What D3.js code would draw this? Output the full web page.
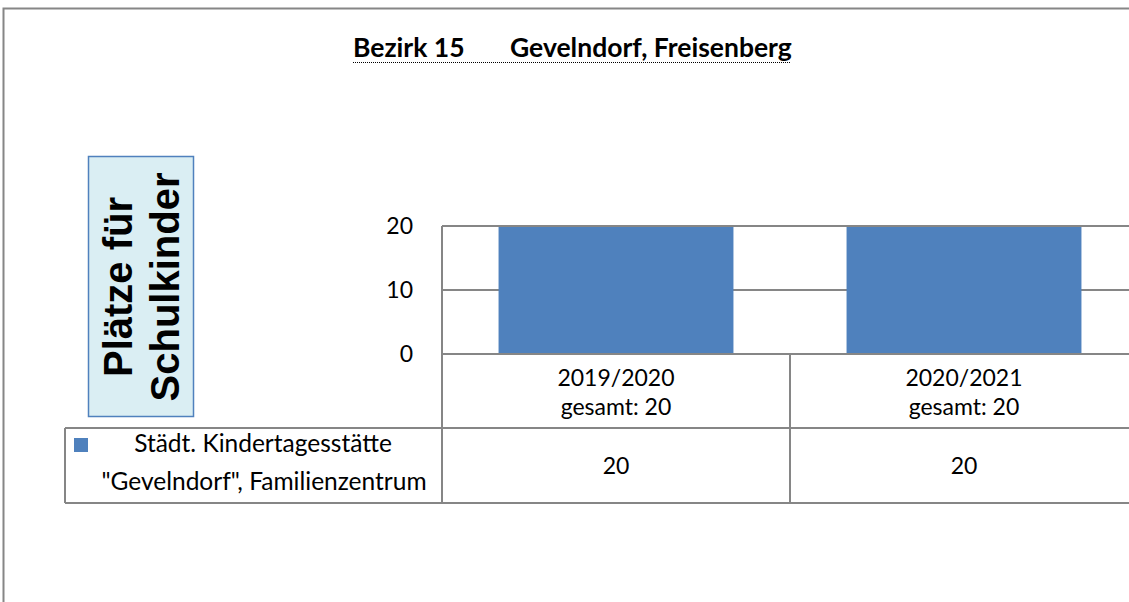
<!DOCTYPE html>
<html>
<head>
<meta charset="utf-8">
<script src="https://cdn.jsdelivr.net/npm/d3@7"></script>
<style>
  html, body { margin: 0; padding: 0; background: #fff; }
  svg { display: block; }
</style>
</head>
<body>
<svg id="chart" width="1129" height="602"></svg>
<script>
// Chart data
const titleParts = ["Bezirk 15", "Gevelndorf, Freisenberg"];
const yTitleLines = ["Plätze für", "Schulkinder"];
const categories = ["2019/2020", "2020/2021"];
const totals = [20, 20];
const seriesLabel = ["Städt. Kindertagesstätte", "\"Gevelndorf\", Familienzentrum"];
const seriesValues = [20, 20];
const yTicks = [0, 10, 20];

const W = 1129, H = 602;
const svg = d3.select("#chart");
const grey = "#868686";
const barColor = "#4F81BD";
const font = "Lato, 'Open Sans', sans-serif";

// Plot geometry
const plotLeft = 442, plotRight = 1138, plotTop = 226, plotBottom = 354;
const row1Bottom = 428, row2Bottom = 503, legendLeft = 65;

const x = d3.scaleBand().domain(categories).range([plotLeft, plotRight])
  .paddingInner(0.325).paddingOuter(0.1625);
const y = d3.scaleLinear().domain([0, 20]).range([plotBottom, plotTop]);
const [yMin, yMax] = y.domain();

// Outer chart border (extends past the visible area)
svg.append("path")
  .attr("d", `M3.5,${H + 5} V8.5 H${W + 5}`)
  .attr("fill", "none").attr("stroke", grey).attr("stroke-width", 2);

// Title
const title = svg.append("text")
  .attr("y", 57).attr("font-family", font).attr("font-weight", "bold")
  .attr("font-size", 26.5).attr("fill", "#000");
title.append("tspan").attr("x", 353).text(titleParts[0]);
title.append("tspan").attr("x", 510).text(titleParts[1]);
svg.append("line")
  .attr("x1", 353).attr("x2", 790).attr("y1", 62.5).attr("y2", 62.5)
  .attr("stroke", "#000").attr("stroke-width", 1).attr("stroke-dasharray", "1,1");

// Y-axis title box
svg.append("rect")
  .attr("x", 88.5).attr("y", 156.5).attr("width", 105).attr("height", 260)
  .attr("fill", "#DAEEF3").attr("stroke", "#4F81BD").attr("stroke-width", 1.5);
const yTitle = svg.append("g").attr("transform", "translate(0,287) rotate(-90)");
yTitleLines.forEach((t, i) => {
  yTitle.append("text")
    .attr("x", 0).attr("y", 132 + i * 47)
    .attr("text-anchor", "middle")
    .attr("font-family", "'Liberation Sans', Arial, sans-serif")
    .attr("font-weight", "bold").attr("font-size", 40)
    .text(t);
});

// Inner gridlines sit behind the bars
const gridLine = sel => sel
  .attr("x1", plotLeft).attr("x2", plotRight)
  .attr("y1", d => y(d)).attr("y2", d => y(d))
  .attr("stroke", grey).attr("stroke-width", 2);
svg.append("g").selectAll("line")
  .data(yTicks.filter(t => t !== yMin && t !== yMax))
  .join("line").call(gridLine);

// Bars
svg.append("g").selectAll("rect")
  .data(categories.map((c, i) => ({ c, v: seriesValues[i] })))
  .join("rect")
  .attr("x", d => x(d.c))
  .attr("y", d => y(d.v))
  .attr("width", x.bandwidth())
  .attr("height", d => y(0) - y(d.v))
  .attr("fill", barColor);

// Top border and baseline drawn over the bars
svg.append("g").selectAll("line")
  .data(yTicks.filter(t => t === yMin || t === yMax))
  .join("line").call(gridLine);

// Y axis labels
const yAxis = svg.append("g")
  .attr("transform", `translate(${plotLeft},0)`)
  .call(d3.axisLeft(y).tickValues(yTicks).tickSize(0).tickPadding(29).tickFormat(d3.format("d")));
yAxis.select(".domain").remove();
yAxis.selectAll("text")
  .attr("font-family", font).attr("font-size", 23).attr("fill", "#000");

// Data table lines
const tbl = svg.append("g").attr("stroke", grey).attr("stroke-width", 2).attr("fill", "none");
tbl.append("line").attr("x1", legendLeft).attr("x2", plotRight).attr("y1", row1Bottom).attr("y2", row1Bottom);
tbl.append("line").attr("x1", legendLeft).attr("x2", plotRight).attr("y1", row2Bottom).attr("y2", row2Bottom);
tbl.append("line").attr("x1", legendLeft).attr("x2", legendLeft).attr("y1", row1Bottom).attr("y2", row2Bottom);
tbl.append("line").attr("x1", plotLeft).attr("x2", plotLeft).attr("y1", plotTop).attr("y2", row2Bottom);
categories.forEach((c, i) => {
  if (i > 0) {
    const bx = x(c) - x.step() * x.paddingInner() / 2;
    tbl.append("line").attr("x1", bx).attr("x2", bx).attr("y1", plotBottom).attr("y2", row2Bottom);
  }
});

// Category labels and data row
const catG = svg.append("g").attr("font-family", font).attr("font-size", 23).attr("text-anchor", "middle");
categories.forEach((c, i) => {
  const cx = x(c) + x.bandwidth() / 2;
  catG.append("text").attr("x", cx).attr("y", 386).text(c);
  catG.append("text").attr("x", cx).attr("y", 415).text("gesamt: " + totals[i]);
  catG.append("text").attr("x", cx).attr("y", 474).text(seriesValues[i]);
});

// Legend key
svg.append("rect").attr("x", 74).attr("y", 438).attr("width", 14).attr("height", 14).attr("fill", barColor);
const leg = svg.append("g").attr("font-family", font).attr("font-size", 24.5).attr("text-anchor", "middle");
leg.append("text").attr("x", 263).attr("y", 452).text(seriesLabel[0]);
leg.append("text").attr("x", 264).attr("y", 490).text(seriesLabel[1]);
</script>
</body>
</html>
